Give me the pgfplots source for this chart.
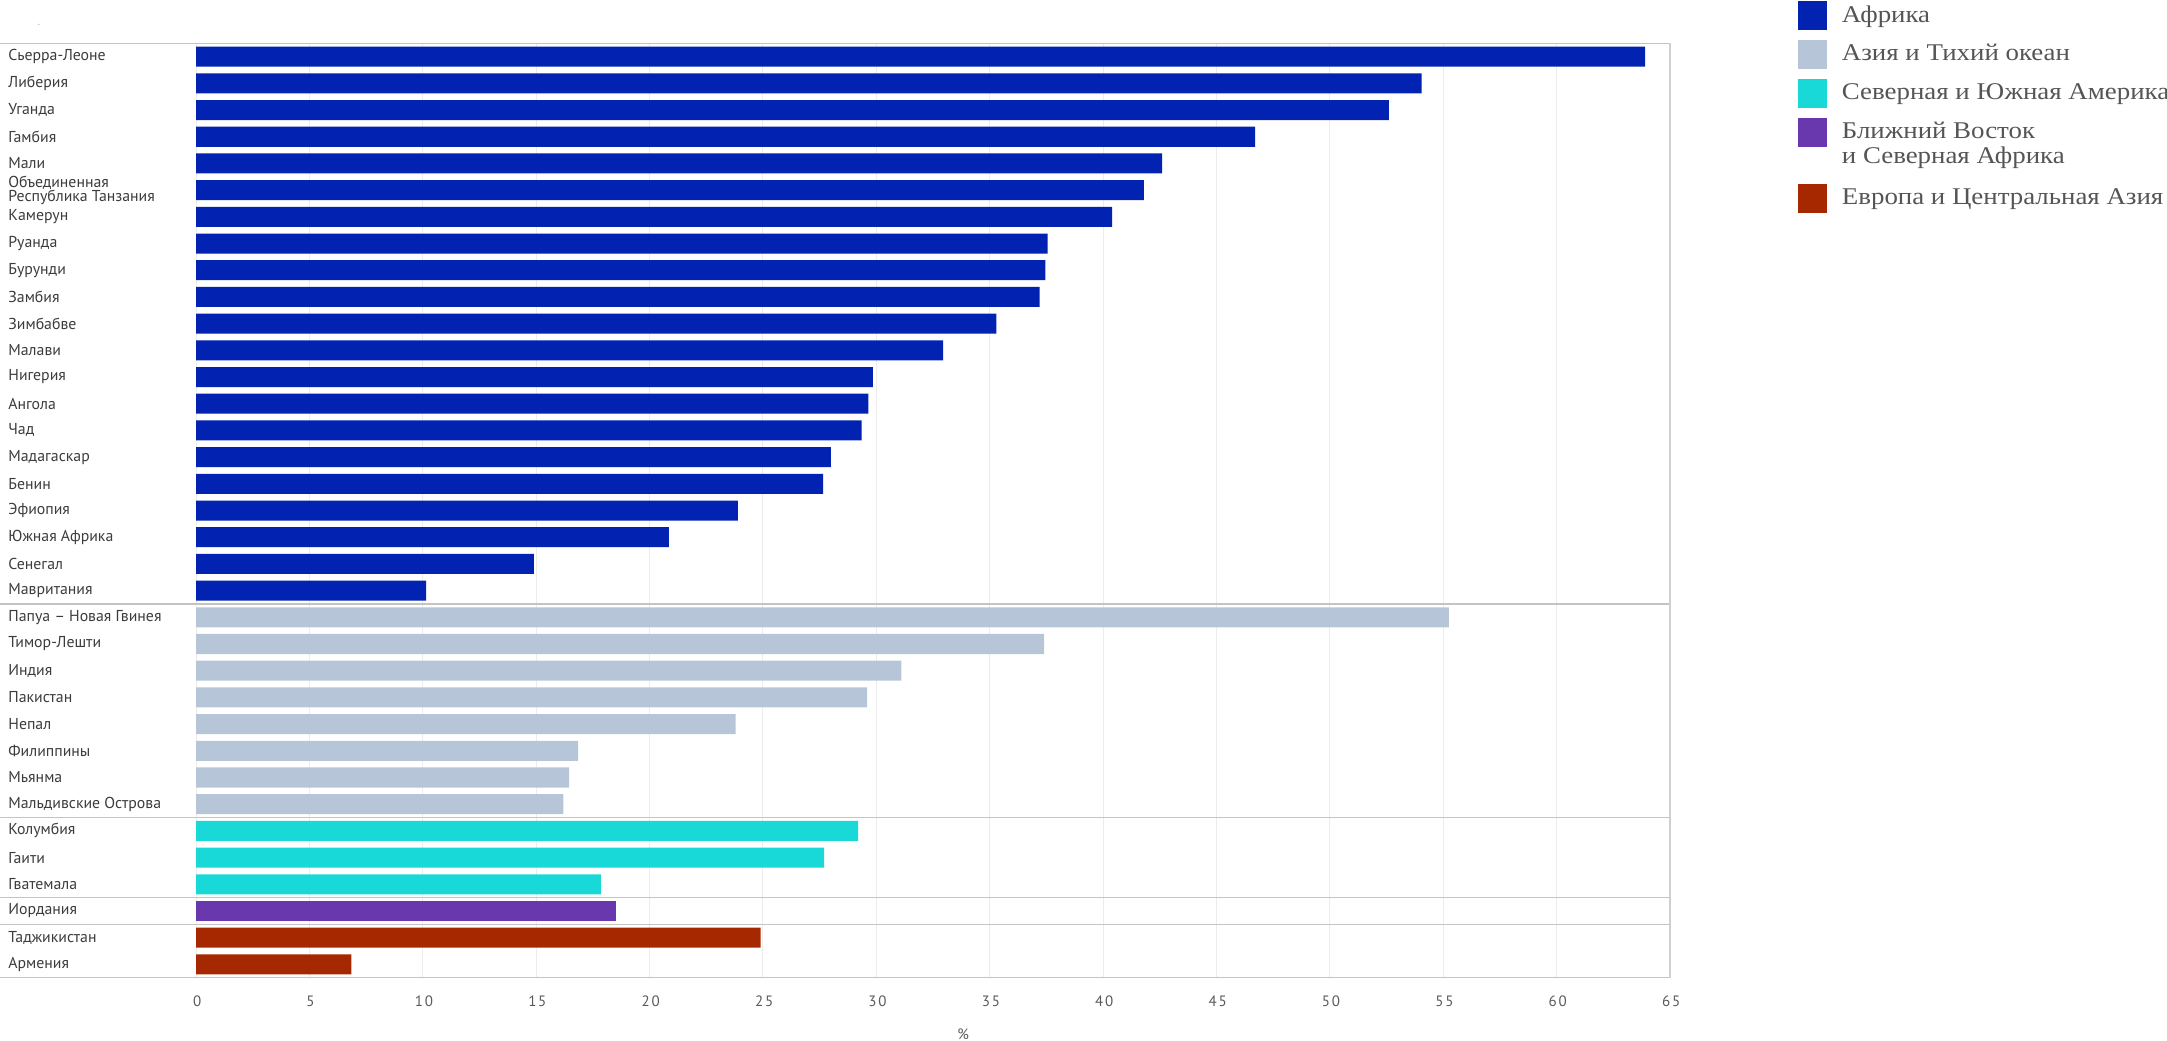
\documentclass[border=0pt]{standalone}
\usepackage{pgfplots}
\pgfplotsset{compat=1.18}
\usepackage{fontspec}
\setmainfont{PT Sans}
\newfontfamily\legfont{Liberation Serif}[FakeStretch=1.12]
\newfontfamily\tickfont{PT Sans}[LetterSpace=12]
\definecolor{cAfr}{RGB}{2,35,178}
\definecolor{cAsia}{RGB}{182,198,216}
\definecolor{cAm}{RGB}{24,216,216}
\definecolor{cME}{RGB}{106,56,174}
\definecolor{cEu}{RGB}{166,40,0}
\definecolor{gridc}{RGB}{236,236,236}
\definecolor{sepc}{RGB}{196,196,196}
\definecolor{framec}{RGB}{208,208,208}
\definecolor{labc}{RGB}{60,60,60}
\definecolor{tickc}{RGB}{90,90,90}
\definecolor{legc}{RGB}{85,85,85}
\begin{document}
\begin{tikzpicture}
\useasboundingbox (0,0) rectangle (1083.5pt,520pt);
\begin{axis}[
  at={(98pt,31.15pt)}, anchor=south west,
  scale only axis, width=737pt, height=467.2pt,
  xmin=0, xmax=65, ymin=-0.5, ymax=34.5, y dir=reverse,
  xtick={0,5,...,65}, ytick={0,1,...,34},
  yticklabels={Сьерра-Леоне,Либерия,Уганда,Гамбия,Мали,{Объединенная\\Республика Танзания},Камерун,Руанда,Бурунди,Замбия,Зимбабве,Малави,Нигерия,Ангола,Чад,Мадагаскар,Бенин,Эфиопия,Южная Африка,Сенегал,Мавритания,Папуа – Новая Гвинея,Тимор-Лешти,Индия,Пакистан,Непал,Филиппины,Мьянма,Мальдивские Острова,Колумбия,Гаити,Гватемала,Иордания,Таджикистан,Армения},
  major tick length=0pt,
  axis line style={draw=none},
  xmajorgrids, major grid style={draw=gridc, line width=0.5pt},
  /pgf/number format/assume math mode=true,
  xticklabel style={font=\tickfont\fontsize{7.5}{8}\selectfont, text=tickc, anchor=north, inner sep=0pt, yshift=-8.9pt, xshift=0.6pt},
  yticklabel style={font=\fontsize{7.9}{7}\selectfont, text=labc, anchor=west, inner sep=0pt, xshift=-94pt, align=left},
  xlabel={\%},
  xlabel style={at={(axis description cs:0.5204,0)}, anchor=center, yshift=-28.15pt, font=\tickfont\fontsize{7.5}{8}\selectfont, text=tickc, inner sep=0pt},
  clip=false,
  legend style={at={(axis description cs:1.0868,1.0449)}, anchor=north west, draw=none, fill=none, inner sep=0pt, outer sep=0pt, font=\legfont\fontsize{12}{12.5}\selectfont, text=legc, cells={anchor=base west, inner sep=0pt}, column sep=5.5pt, row sep=0pt},
  legend image code/.code={\path[draw=none, fill=none] (0pt,-9.1pt) rectangle (14.5pt,10.3pt); \fill[#1, draw=none] (0pt,-4.2pt) rectangle (14.5pt,10.3pt);},
]
\addplot[xbar, bar width=0.75, bar shift=0pt, fill=cAfr, draw=none] coordinates {
(63.9,0) (54.05,1) (52.6,2) (46.7,3) (42.6,4) (41.8,5) (40.4,6) (37.55,7) (37.45,8) (37.2,9) (35.3,10) (32.95,11) (29.85,12) (29.65,13) (29.35,14) (28.0,15) (27.65,16) (23.9,17) (20.85,18) (14.9,19) (10.15,20)};
\addlegendentry{Африка}
\addplot[xbar, bar width=0.75, bar shift=0pt, fill=cAsia, draw=none] coordinates {
(55.25,21) (37.4,22) (31.1,23) (29.6,24) (23.8,25) (16.85,26) (16.45,27) (16.2,28)};
\addlegendentry{Азия и Тихий океан}
\addplot[xbar, bar width=0.75, bar shift=0pt, fill=cAm, draw=none] coordinates {
(29.2,29) (27.7,30) (17.85,31)};
\addlegendentry{Северная и Южная Америка}
\addplot[xbar, bar width=0.75, bar shift=0pt, fill=cME, draw=none,
  legend image code/.code={\path[draw=none, fill=none] (0pt,-4.2pt) rectangle (14.5pt,10.3pt); \fill[cME, draw=none] (0pt,-4.2pt) rectangle (14.5pt,10.3pt);}] coordinates {
(18.5,32)};
\addlegendentry{Ближний Восток}
\addlegendimage{legend image code/.code={\path[draw=none, fill=none] (0pt,-10.05pt) rectangle (14.5pt,8.3pt);}}
\addlegendentry{\smash{и Северная Африка}}
\addplot[xbar, bar width=0.75, bar shift=0pt, fill=cEu, draw=none] coordinates {
(24.9,33) (6.85,34)};
\addlegendentry{Европа и Центральная Азия}
\draw[sepc, line width=0.6pt] ([xshift=-98pt]axis cs:0,-0.5) -- (axis cs:65,-0.5);
\draw[sepc, line width=0.6pt] ([xshift=-98pt]axis cs:0,20.5) -- (axis cs:65,20.5);
\draw[sepc, line width=0.6pt] ([xshift=-98pt]axis cs:0,28.5) -- (axis cs:65,28.5);
\draw[sepc, line width=0.6pt] ([xshift=-98pt]axis cs:0,31.5) -- (axis cs:65,31.5);
\draw[sepc, line width=0.6pt] ([xshift=-98pt]axis cs:0,32.5) -- (axis cs:65,32.5);
\draw[sepc, line width=0.6pt] ([xshift=-98pt]axis cs:0,34.5) -- (axis cs:65,34.5);
\draw[framec, line width=0.6pt] (axis cs:65,-0.5) -- (axis cs:65,34.5);
\end{axis}
\node[font=\fontsize{6}{6}\selectfont, text=gray!60, inner sep=0pt] at (19.5pt,507.5pt) {.};
\end{tikzpicture}
\end{document}
